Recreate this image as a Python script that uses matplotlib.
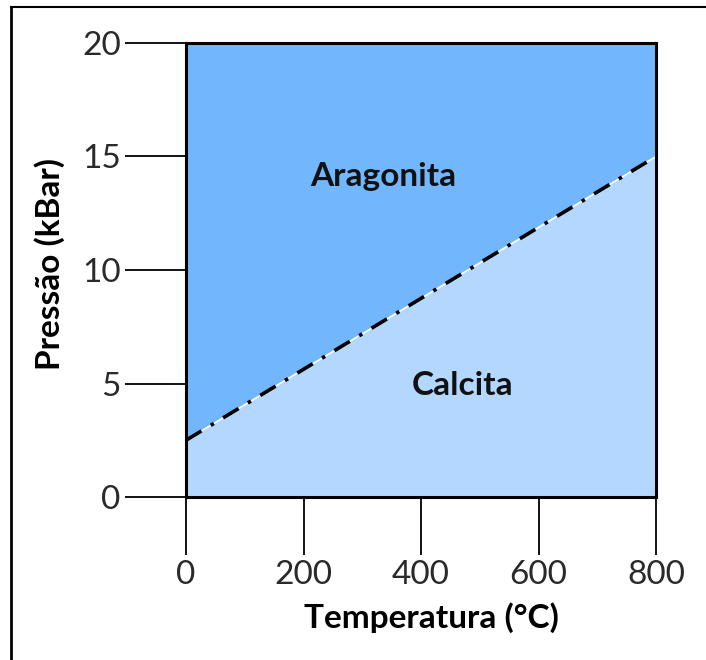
import matplotlib
matplotlib.use("Agg")
import matplotlib.pyplot as plt
from matplotlib.lines import Line2D

plt.rcParams['font.family'] = ['Lato', 'DejaVu Sans']

temp_range = [0, 800]
boundary_temp = [0, 800]
boundary_pressure = [2.5, 15.0]
x_ticks = [0, 200, 400, 600, 800]
y_ticks = [0, 5, 10, 15, 20]
labels = {"Aragonita": (335, 14.1), "Calcita": (471, 4.9)}

fig = plt.figure(figsize=(7.06, 6.6), dpi=100)
ax = fig.add_axes([186/706, 1-497/660, (656-186)/706, (497-43)/660])

ax.fill_between(boundary_temp, boundary_pressure, 20, color='#72b6fd', lw=0)
ax.fill_between(boundary_temp, 0, boundary_pressure, color='#b3d7fe', lw=0)
ax.plot(boundary_temp, boundary_pressure, color='white', lw=1.2, zorder=2)
ax.plot(boundary_temp, boundary_pressure, color='black', lw=2.6,
        linestyle=(0, (5, 3, 1, 3)), zorder=3)

for name, (x, y) in labels.items():
    ax.text(x, y, name, ha='center', va='center', fontsize=24, fontweight='bold', color='#111111')

ax.set_xlim(0, 800)
ax.set_ylim(0, 20)
ax.set_xticks(x_ticks)
ax.set_yticks(y_ticks)
ax.set_xticklabels([str(v) for v in x_ticks])
ax.set_yticklabels([str(v) for v in y_ticks])
ax.tick_params(axis='x', length=42, width=1.3, direction='out', pad=3, labelsize=24, labelcolor='#2a2a2a')
ax.tick_params(axis='y', length=44, width=1.3, direction='out', pad=3, labelsize=24, labelcolor='#2a2a2a')
for s in ax.spines.values():
    s.set_linewidth(2.2)
    s.set_color('black')

ax.set_xlabel('Temperatura (°C)', fontsize=24, fontweight='bold')
ax.xaxis.set_label_coords(0.522, -0.232)
ax.set_ylabel('Pressão (kBar)', fontsize=24, fontweight='bold')
ax.yaxis.set_label_coords(-0.258, 0.513)

# outer frame (left and top edges)
fig.add_artist(Line2D([11/706, 11/706], [0, 1-7/660], transform=fig.transFigure, color='black', lw=2))
fig.add_artist(Line2D([11/706, 1], [1-7/660, 1-7/660], transform=fig.transFigure, color='black', lw=1.5))

fig.savefig('out.png', dpi=100)
